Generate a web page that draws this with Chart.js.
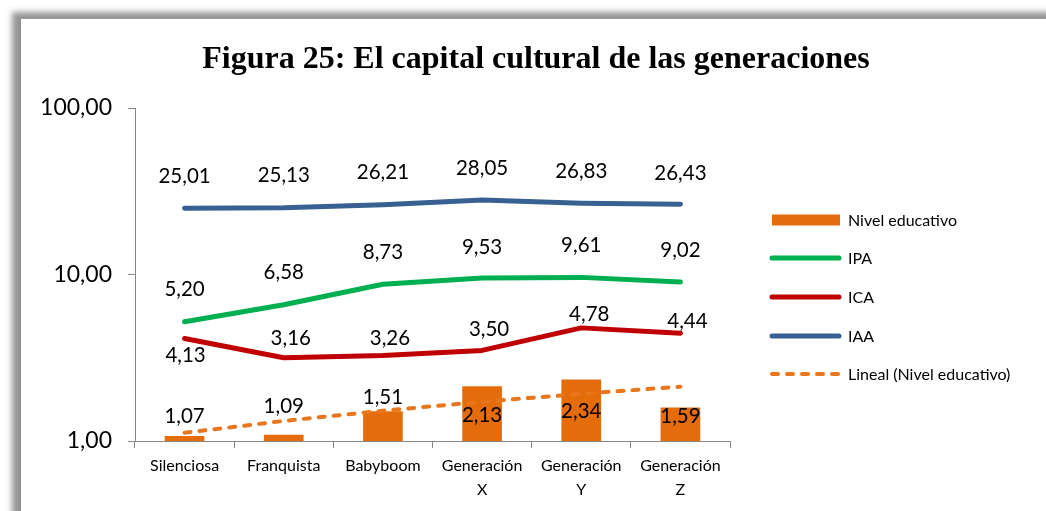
<!DOCTYPE html>
<html>
<head>
<meta charset="utf-8">
<script src="https://cdn.jsdelivr.net/npm/chart.js@4/dist/chart.umd.min.js"></script>
<style>
  html, body { margin: 0; padding: 0; background: #fff; width: 1046px; height: 511px; overflow: hidden; }
  #frame { position: absolute; left: 20px; top: 18px; width: 1100px; height: 600px; background: #fff;
           border-left: 1px solid #8f8f8f; border-top: 1px solid #999;
           box-shadow: -8px -6px 6px rgba(0,0,0,0.42); }
  #c { position: absolute; left: 0; top: 0; }
</style>
</head>
<body>
<div id="frame"></div>
<canvas id="c" width="1046" height="511"></canvas>
<script>
// ---- data ----
const categories = ['Silenciosa', 'Franquista', 'Babyboom', ['Generación', 'X'], ['Generación', 'Y'], ['Generación', 'Z']];
const nivelEducativo = [1.07, 1.09, 1.51, 2.13, 2.34, 1.59];
const ipa = [5.20, 6.58, 8.73, 9.53, 9.61, 9.02];
const ica = [4.13, 3.16, 3.26, 3.50, 4.78, 4.44];
const iaa = [25.01, 25.13, 26.21, 28.05, 26.83, 26.43];
const linealNivel = [1.12, 1.32, 1.52, 1.72, 1.92, 2.12];
const yTicks = [1, 10, 100];
const titleText = 'Figura 25: El capital cultural de las generaciones';

// ---- label placement (offsets from each point, px) ----
const labelPlacement = {
  'Nivel educativo': { dx: [0, 0, 0, 0, 0, 0], dy: [-20, -28, -14, 29, 32, 9] },
  'IPA': { dx: [0, 0, 0, 0, 0, 0], dy: [-32, -32, -32, -31, -32, -32] },
  'ICA': { dx: [1, 7, 7, 7, 8, 7], dy: [17, -19, -17, -21, -13, -12] },
  'IAA': { dx: [0, 0, 0, 0, 0, 0], dy: [-32, -32, -32, -32, -32, -31] }
};

const fmt = v => v.toFixed(2).replace('.', ',');
const FONT = 'Lato, "Open Sans", sans-serif';

const labelsPlugin = {
  id: 'valueLabels',
  afterDatasetsDraw(chart) {
    const ctx = chart.ctx;
    ctx.save();
    ctx.font = '20.5px ' + FONT;
    ctx.fillStyle = '#000';
    ctx.textAlign = 'center';
    ctx.textBaseline = 'middle';
    chart.data.datasets.forEach((ds, di) => {
      const pl = labelPlacement[ds.label];
      if (!pl) return;
      const meta = chart.getDatasetMeta(di);
      meta.data.forEach((el, i) => {
        ctx.fillText(fmt(ds.data[i]), el.x + pl.dx[i], el.y + pl.dy[i]);
      });
    });
    ctx.restore();
  }
};

const decorPlugin = {
  id: 'decor',
  afterDraw(chart) {
    const ctx = chart.ctx;
    ctx.save();
    // title
    ctx.font = 'bold 32px "Liberation Serif", "Times New Roman", serif';
    ctx.fillStyle = '#000';
    ctx.textAlign = 'center';
    ctx.textBaseline = 'alphabetic';
    ctx.fillText(titleText, 536, 68);
    // legend
    const order = ['Nivel educativo', 'IPA', 'ICA', 'IAA', 'Lineal (Nivel educativo)'];
    const ys = [220, 258, 297, 336, 374];
    ctx.font = '16px ' + FONT;
    ctx.textAlign = 'left';
    ctx.textBaseline = 'middle';
    order.forEach((name, k) => {
      const ds = chart.data.datasets.find(d => d.label === name);
      const y = ys[k];
      if (ds.type === 'bar') {
        ctx.fillStyle = ds.backgroundColor;
        ctx.fillRect(772, y - 5.5, 68, 11);
      } else {
        ctx.strokeStyle = ds.borderColor;
        ctx.lineWidth = ds.borderWidth;
        ctx.lineCap = 'round';
        ctx.setLineDash(ds.borderDash || []);
        ctx.beginPath();
        ctx.moveTo(772, y);
        ctx.lineTo(839, y);
        ctx.stroke();
        ctx.setLineDash([]);
      }
      ctx.fillStyle = '#000';
      ctx.fillText(name, 848, y + 1);
    });
    ctx.restore();
  }
};

const lineCommon = {
  type: 'line', borderWidth: 5, pointRadius: 0, pointHoverRadius: 0, tension: 0,
  borderCapStyle: 'round', borderJoinStyle: 'round', fill: false, order: 1
};

new Chart(document.getElementById('c'), {
  type: 'bar',
  data: {
    labels: categories,
    datasets: [
      { type: 'bar', label: 'Nivel educativo', data: nivelEducativo, backgroundColor: '#E46C0A',
        categoryPercentage: 1, barPercentage: 0.4, order: 10 },
      Object.assign({ label: 'IPA', data: ipa, borderColor: '#00B050' }, lineCommon),
      Object.assign({ label: 'ICA', data: ica, borderColor: '#C00000' }, lineCommon),
      Object.assign({ label: 'IAA', data: iaa, borderColor: '#386092' }, lineCommon),
      Object.assign({}, lineCommon, { label: 'Lineal (Nivel educativo)', data: linealNivel,
        borderColor: '#E8761C', borderWidth: 4, borderDash: [6, 9], order: 2 })
    ]
  },
  options: {
    responsive: false,
    animation: false,
    events: [],
    layout: { padding: { left: 0, right: 316, top: 108, bottom: 0 } },
    plugins: { legend: { display: false }, title: { display: false }, tooltip: { enabled: false } },
    scales: {
      x: {
        type: 'category',
        offset: true,
        border: { display: true, color: '#868686', width: 1 },
        grid: { display: true, drawOnChartArea: false, drawTicks: true, tickLength: 7, offset: true, color: '#868686' },
        ticks: { color: '#000', font: { family: FONT, size: 16, lineHeight: 1.5 }, padding: 6, maxRotation: 0, autoSkip: false },
        afterFit: s => { s.height = 70; }
      },
      y: {
        type: 'logarithmic',
        min: 1, max: 100,
        border: { display: true, color: '#868686', width: 1 },
        grid: { display: true, drawOnChartArea: false, drawTicks: true, tickLength: 7, color: '#868686' },
        afterBuildTicks: s => { s.ticks = yTicks.map(v => ({ value: v })); },
        ticks: { color: '#000', font: { family: FONT, size: 23 }, padding: 16, callback: v => fmt(v) },
        afterFit: s => { s.width = 135; }
      }
    }
  },
  plugins: [labelsPlugin, decorPlugin]
});
</script>
</body>
</html>
